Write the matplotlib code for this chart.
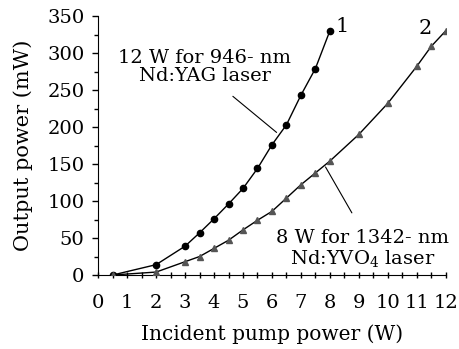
import matplotlib
matplotlib.use("Agg")
import matplotlib.pyplot as plt
from matplotlib.ticker import MultipleLocator

# curve 1: 946 nm Nd:YAG
x1 = [0.5, 2, 3, 3.5, 4, 4.5, 5, 5.5, 6, 6.5, 7, 7.5, 8]
y1 = [0, 14, 39, 57, 76, 96, 117, 144, 176, 203, 243, 279, 330]

# curve 2: 1342 nm Nd:YVO4
x2 = [0.5, 2, 3, 3.5, 4, 4.5, 5, 5.5, 6, 6.5, 7, 7.5, 8, 9, 10, 11, 11.5, 12]
y2 = [0, 4, 18, 25, 36, 47, 61, 74, 86, 104, 122, 138, 154, 190, 232, 282, 309, 330]

xticks = list(range(0, 13))
yticks = list(range(0, 351, 50))

plt.rcParams['font.family'] = ['DejaVu Serif']
plt.rcParams['mathtext.fontset'] = 'dejavuserif'

fig = plt.figure(figsize=(4.59, 3.49), dpi=100)
ax = fig.add_axes([0.214, 0.212, 0.757, 0.742])

ax.plot(x1, y1, color='black', lw=1.0, marker='o', ms=4.5, zorder=3)
ax.plot(x2, y2, color='black', lw=1.0, marker='^', ms=5,
        mfc='#555555', mec='#555555', zorder=3)

ax.set_xlim(0, 12)
ax.set_ylim(0, 350)
ax.set_xticks(xticks)
ax.set_yticks(yticks)
ax.xaxis.set_minor_locator(MultipleLocator(0.5))
ax.yaxis.set_minor_locator(MultipleLocator(25))
ax.spines['top'].set_visible(False)
ax.spines['right'].set_visible(False)
ax.tick_params(axis='x', which='both', direction='inout', length=4, width=1, labelsize=14, pad=11.5)
ax.tick_params(axis='y', which='major', direction='out', length=4, width=1, labelsize=14, pad=6)
ax.tick_params(axis='y', which='minor', direction='out', length=3, width=1)

ax.set_xlabel('Incident pump power (W)', fontsize=14.5, labelpad=9)
ax.set_ylabel('Output power (mW)', fontsize=15, labelpad=10)

# annotation texts and leader lines
ax.text(3.67, 281, '12 W for 946- nm\nNd:YAG laser', ha='center', va='center',
        fontsize=14, linespacing=1.05)
ax.annotate('', xy=(6.16, 192.7), xytext=(4.65, 241.5),
            arrowprops=dict(arrowstyle='-', color='black', lw=0.8, shrinkA=0, shrinkB=0))
ax.text(9.12, 35, '8 W for 1342- nm\nNd:YVO$_4$ laser', ha='center', va='center',
        fontsize=14, linespacing=1.05)
ax.annotate('', xy=(7.85, 146), xytext=(8.76, 84),
            arrowprops=dict(arrowstyle='-', color='black', lw=0.8, shrinkA=0, shrinkB=0))

ax.text(8.2, 336, '1', fontsize=15, ha='left', va='center')
ax.text(11.05, 333, '2', fontsize=15, ha='left', va='center')

fig.savefig('out.png', dpi=100)
